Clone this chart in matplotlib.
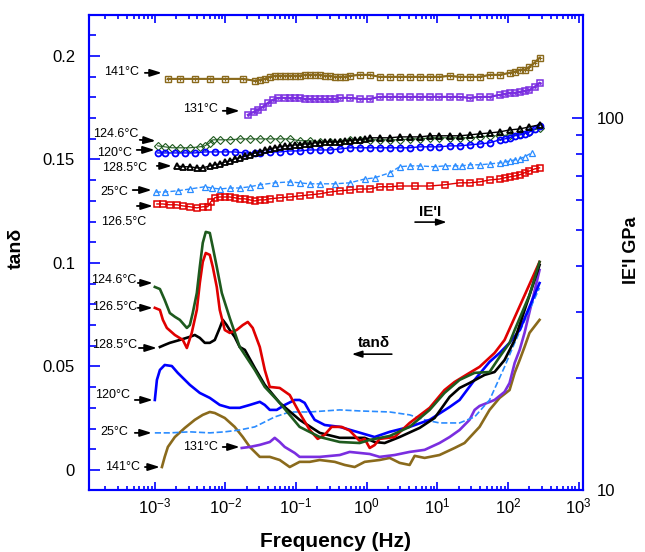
import matplotlib
matplotlib.use("Agg")
import matplotlib.pyplot as plt
from matplotlib.ticker import LogLocator, MultipleLocator, NullFormatter, FixedLocator
from matplotlib.transforms import offset_copy

plt.rcParams['font.family'] = ['Liberation Sans', 'DejaVu Sans']
plt.rcParams['mathtext.fontset'] = 'custom'
plt.rcParams['mathtext.rm'] = 'Liberation Sans'
plt.rcParams['mathtext.default'] = 'regular'

# ---- |E'| (GPa) vs frequency, right axis ----
f_e141 = [1.53e-3, 2.26e-3, 3.68e-3, 6.0e-3, 9.77e-3, 1.76e-2, 2.6e-2, 3.06e-2, 3.6e-2, 4.24e-2,
          4.98e-2, 5.86e-2, 6.9e-2, 8.12e-2, 9.55e-2, 0.112, 0.132, 0.156, 0.183, 0.216, 0.254,
          0.299, 0.352, 0.414, 0.487, 0.573, 0.794,
          1.10, 1.52, 2.11, 2.92, 4.04, 5.60, 7.76, 10.7, 14.9, 20.6, 28.5, 39.5, 54.7, 75.9,
          105, 124, 146, 171, 201, 237, 279]
e141 = [127.3, 127.3, 127.3, 127.3, 127.3, 127.3, 125.8, 126.5, 127.3, 128.9,
        129.7, 129.7, 129.7, 129.7, 129.7, 129.7, 130.5, 130.5, 130.5, 130.5, 129.7,
        129.7, 128.9, 128.9, 128.9, 129.7, 130.5,
        130.5, 128.9, 128.9, 128.9, 128.9, 128.9, 128.9, 128.9, 129.7, 128.9, 128.9, 128.9, 130.5, 130.5,
        132.1, 133.0, 134.6, 134.6, 137.1, 140.6, 145.0]

f_e131 = [2.07e-2, 2.51e-2, 2.86e-2, 3.37e-2, 3.97e-2, 4.67e-2, 5.49e-2, 6.9e-2, 8.12e-2, 9.55e-2,
          0.112, 0.132, 0.156, 0.183, 0.216, 0.254, 0.299, 0.352, 0.414, 0.573, 0.794, 1.10,
          1.52, 2.11, 2.92, 4.04, 5.60, 7.76,
          10.7, 14.9, 20.6, 28.5, 39.5, 54.7, 75.9, 89.2, 105, 124, 146, 171, 201, 237, 279]
e131 = [101.9, 103.8, 105.1, 107.1, 109.7, 111.8, 113.2, 113.2, 113.2, 113.2,
        113.2, 112.5, 112.5, 112.5, 112.5, 112.5, 112.5, 112.5, 113.2, 113.2, 112.5, 112.5,
        113.9, 113.9, 113.9, 113.9, 113.9, 113.9,
        113.9, 113.9, 113.9, 113.2, 113.9, 113.9, 115.3, 116.0, 116.8, 116.8, 117.5, 118.2, 118.9, 121.2, 124.2]

f_e1246 = [1.10e-3, 1.38e-3, 1.74e-3, 2.26e-3, 3.13e-3, 4.33e-3, 5.1e-3, 6.0e-3, 6.61e-3, 8.3e-3,
           1.15e-2, 1.59e-2, 2.21e-2, 3.06e-2, 4.24e-2, 5.86e-2, 8.12e-2, 0.112, 0.156, 0.216,
           0.299, 0.414, 0.573, 0.794, 1.10, 1.52, 2.11, 2.92, 4.04, 5.60, 7.76, 10.7, 14.9,
           20.6, 28.5, 39.5, 54.7, 75.9, 105, 146, 201, 279]
e1246 = [84.1, 83.6, 83.1, 83.1, 83.1, 83.6, 84.1, 85.7, 87.3, 87.3,
         87.3, 87.8, 87.8, 87.8, 87.8, 87.8, 87.8, 86.8, 86.8, 86.2,
         86.2, 86.2, 87.3, 87.3, 87.3, 87.3, 87.3, 87.3, 87.8, 87.8, 88.4, 88.4, 88.4,
         88.4, 88.4, 88.9, 89.5, 89.5, 90.0, 90.6, 91.7, 94.0]

f_e120 = [1.10e-3, 1.38e-3, 1.92e-3, 2.66e-3, 3.68e-3, 5.1e-3, 7.06e-3, 9.77e-3, 1.35e-2, 1.88e-2,
          2.6e-2, 3.06e-2, 4.24e-2, 5.86e-2, 8.12e-2, 0.112, 0.156, 0.216, 0.299, 0.414, 0.573,
          0.794, 1.10, 1.52, 2.11, 2.92, 4.04, 5.60, 7.76, 10.7, 14.9, 20.6, 28.5, 39.5, 54.7,
          75.9, 89.2, 105, 124, 146, 171, 201, 237, 279]
e120 = [80.5, 80.5, 80.5, 80.5, 80.5, 81.0, 81.0, 81.0, 81.0, 80.5,
        80.5, 80.5, 81.0, 81.0, 81.5, 81.5, 82.0, 82.0, 82.0, 82.5, 83.1,
        83.1, 83.1, 83.1, 83.1, 83.1, 83.1, 83.6, 83.6, 83.6, 84.1, 84.1, 84.6, 85.1, 85.7,
        87.3, 87.8, 88.4, 89.5, 90.0, 90.6, 91.7, 93.4, 95.2]

f_e1285 = [2.05e-3, 2.49e-3, 3.13e-3, 3.93e-3, 4.77e-3, 6.0e-3, 7.06e-3, 8.3e-3, 9.77e-3, 1.15e-2,
           1.35e-2, 1.59e-2, 1.88e-2, 2.21e-2, 2.6e-2, 3.06e-2, 3.6e-2, 4.24e-2, 4.98e-2, 5.86e-2,
           6.9e-2, 8.12e-2, 9.55e-2, 0.112, 0.132, 0.156, 0.183, 0.216, 0.254, 0.299, 0.352,
           0.414, 0.487, 0.573, 0.674, 0.794, 0.934, 1.10, 1.52, 2.11, 2.92,
           4.04, 5.60, 7.76, 10.7, 14.9, 20.6, 28.5, 39.5, 54.7, 75.9, 105, 146, 201, 279]
e1285 = [74.3, 73.9, 73.9, 73.4, 73.4, 74.3, 74.8, 75.2, 76.1, 76.6,
         77.6, 78.1, 79.0, 79.5, 80.5, 81.0, 82.0, 82.5, 83.1, 83.6,
         84.1, 84.1, 84.6, 84.6, 85.1, 85.1, 85.7, 85.7, 86.2, 86.2, 86.2,
         86.2, 86.8, 86.8, 87.3, 87.3, 87.8, 88.4, 88.4, 88.4, 88.9,
         88.9, 88.9, 89.5, 89.5, 89.5, 89.5, 90.0, 90.6, 91.1, 91.7, 92.8, 93.4, 94.6, 95.8]

f_e25 = [1.03e-3, 1.38e-3, 2.11e-3, 3.13e-3, 5.1e-3, 6.40e-3, 8.3e-3, 1.15e-2, 1.59e-2, 2.21e-2,
         3.06e-2, 4.98e-2, 8.12e-2, 0.112, 0.156, 0.216, 0.352, 0.573, 0.934, 1.29, 2.11,
         2.92, 4.04, 5.60, 9.13, 12.6, 17.5, 22.0, 28.5, 39.5, 54.7, 75.9, 89.2, 105, 124,
         146, 171, 215]
e25 = [63.2, 63.2, 63.7, 64.4, 65.3, 64.8, 64.4, 64.8, 64.8, 65.3,
       66.1, 66.9, 67.3, 66.9, 66.5, 66.5, 66.5, 66.9, 68.5, 69.0, 71.2,
       73.9, 74.3, 74.3, 73.9, 74.3, 74.3, 74.3, 74.8, 74.8, 75.2, 75.7, 76.1, 76.6, 77.1,
       77.6, 78.6, 80.5]

f_e1265 = [1.07e-3, 1.30e-3, 1.63e-3, 2.05e-3, 2.49e-3, 3.13e-3, 3.93e-3, 4.77e-3, 5.62e-3, 6.20e-3,
           7.06e-3, 8.3e-3, 9.77e-3, 1.15e-2, 1.35e-2, 1.59e-2, 1.88e-2, 2.21e-2, 2.6e-2, 3.06e-2,
           3.6e-2, 4.24e-2, 5.86e-2, 8.12e-2,
           0.112, 0.156, 0.216, 0.299, 0.414, 0.573, 0.794, 1.10, 1.52, 2.11, 2.92, 4.76, 7.76,
           12.6, 20.6, 28.5, 39.5, 54.7, 75.9, 89.2, 105, 124, 146, 171, 201, 237, 279]
e1265 = [58.7, 58.7, 58.4, 58.4, 58.0, 57.7, 57.3, 57.7, 57.7, 59.5,
         61.0, 61.3, 61.3, 61.3, 61.0, 60.6, 60.6, 60.2, 59.8, 60.2,
         60.2, 60.6, 61.0, 61.3,
         61.7, 62.1, 62.5, 63.2, 63.7, 64.0, 64.4, 64.4, 65.3, 65.3, 65.6, 65.6, 65.6,
         66.1, 66.9, 66.9, 67.3, 68.1, 68.5, 69.0, 69.4, 69.8, 70.3, 71.2, 72.0, 72.9, 73.4]

# ---- tan(delta) vs frequency, left axis ----
f_t1246 = [1.0e-3, 1.18e-3, 1.38e-3, 1.63e-3, 1.92e-3, 2.26e-3, 2.84e-3, 3.13e-3, 3.44e-3, 3.93e-3,
           4.33e-3, 4.77e-3, 5.26e-3, 6.0e-3, 6.61e-3, 7.53e-3, 8.87e-3, 1.15e-2, 1.59e-2, 2.6e-2,
           3.6e-2, 5.86e-2, 0.112, 0.216, 0.414, 0.794, 1.10, 2.11, 4.04, 7.76, 12.6, 20.6,
           33.6, 54.7, 75.9, 105, 124, 201, 279]
t1246 = [0.0884, 0.0874, 0.0821, 0.0758, 0.0740, 0.0725, 0.0686, 0.0700, 0.0758, 0.0855,
         0.0981, 0.1097, 0.1150, 0.1145, 0.1077, 0.0981, 0.0855, 0.0734, 0.0594, 0.0483,
         0.0401, 0.0324, 0.0208, 0.0159, 0.0135, 0.0130, 0.0145, 0.0164, 0.0208, 0.0290, 0.0372, 0.0435,
         0.0469, 0.0473, 0.0546, 0.0614, 0.0676, 0.0845, 0.1005]

f_t1265 = [1.0e-3, 1.18e-3, 1.30e-3, 1.48e-3, 1.92e-3, 2.49e-3, 2.84e-3, 3.33e-3, 3.93e-3, 4.33e-3,
           4.77e-3, 5.26e-3, 6.0e-3, 6.61e-3, 7.53e-3, 8.3e-3, 9.77e-3, 1.15e-2, 1.44e-2, 1.76e-2,
           2.07e-2, 2.43e-2, 3.06e-2, 3.6e-2, 4.24e-2, 5.86e-2, 8.12e-2, 0.112, 0.156, 0.202,
           0.254, 0.318, 0.441, 0.573, 0.794, 0.934, 1.10, 1.29, 1.52, 2.48, 4.04, 7.76, 12.6,
           17.5, 28.5, 39.5, 64.4, 89.2, 279]
t1265 = [0.0783, 0.0773, 0.0725, 0.0686, 0.0652, 0.0628, 0.0589, 0.0662, 0.0773, 0.0903,
         0.1005, 0.1048, 0.1039, 0.0981, 0.0884, 0.0773, 0.0676, 0.0662, 0.0676, 0.0700,
         0.0715, 0.0686, 0.0594, 0.0483, 0.0401, 0.0396, 0.0362, 0.0275, 0.0193, 0.0150,
         0.0170, 0.0208, 0.0208, 0.0190, 0.0140, 0.0150, 0.0106, 0.0120, 0.0150, 0.0159, 0.0227, 0.0300, 0.0386,
         0.0425, 0.0469, 0.0498, 0.0565, 0.0628, 0.1005]

f_t1285 = [1.18e-3, 1.38e-3, 1.63e-3, 2.26e-3, 3.13e-3, 3.68e-3, 4.33e-3, 5.1e-3, 6.0e-3, 7.06e-3,
           8.3e-3, 9.16e-3, 1.04e-2, 1.15e-2, 1.35e-2, 1.59e-2, 1.88e-2, 2.6e-2, 3.6e-2, 5.86e-2,
           0.112, 0.216, 0.414, 0.934, 1.29, 1.79, 2.92, 5.60, 9.13, 14.9, 20.6, 28.5, 46.5,
           64.4, 89.2, 124, 279]
t1285 = [0.0594, 0.0604, 0.0614, 0.0628, 0.0643, 0.0652, 0.0638, 0.0614, 0.0614, 0.0628,
         0.0686, 0.0725, 0.0700, 0.0676, 0.0643, 0.0594, 0.0580, 0.0493, 0.0411, 0.0324,
         0.0242, 0.0179, 0.0155, 0.0155, 0.0135, 0.0130, 0.0159, 0.0203, 0.0251, 0.0353, 0.0396, 0.0420, 0.0459,
         0.0473, 0.0531, 0.0628, 0.0990]

f_t120 = [1.0e-3, 1.07e-3, 1.18e-3, 1.38e-3, 1.74e-3, 2.11e-3, 2.66e-3, 3.13e-3, 4.33e-3, 6.0e-3,
          8.3e-3, 1.15e-2, 1.59e-2, 2.21e-2, 3.06e-2, 3.6e-2, 4.24e-2, 5.32e-2, 6.9e-2, 9.55e-2,
          0.112, 0.132, 0.156, 0.183, 0.254, 0.414, 0.794, 1.29, 2.11, 4.04, 7.76, 14.9, 20.6,
          33.6, 54.7, 75.9, 105, 146, 279]
t120 = [0.0338, 0.0435, 0.0483, 0.0507, 0.0502, 0.0469, 0.0435, 0.0411, 0.0372, 0.0348,
        0.0314, 0.0300, 0.0300, 0.0314, 0.0329, 0.0314, 0.0290, 0.0290, 0.0314, 0.0338,
        0.0338, 0.0324, 0.0280, 0.0242, 0.0217, 0.0208, 0.0180, 0.0159, 0.0184, 0.0208, 0.0242, 0.0304, 0.0338,
        0.0435, 0.0522, 0.0565, 0.0614, 0.0676, 0.0903]

f_t25 = [1.0e-3, 1.63e-3, 3.13e-3, 6.0e-3, 9.77e-3, 1.59e-2, 2.6e-2, 3.6e-2, 4.98e-2, 8.12e-2,
         0.156, 0.414, 0.794, 2.11, 4.04, 6.59, 10.7, 20.6, 33.6, 54.7, 89.2, 124, 279]
t25 = [0.0179, 0.0179, 0.0184, 0.0179, 0.0184, 0.0193, 0.0208, 0.0232, 0.0256, 0.0280,
       0.0280, 0.0290, 0.0285, 0.0280, 0.0266, 0.0242, 0.0227, 0.0227, 0.0256, 0.0338, 0.0498, 0.0614, 0.0880]

f_t131 = [1.70e-2, 2.21e-2, 3.06e-2, 4.24e-2, 4.98e-2, 5.86e-2, 6.9e-2, 9.55e-2, 0.112, 0.216,
          0.414, 0.573, 0.794, 1.10, 1.52, 2.48, 4.04, 6.59, 10.7, 14.9, 20.6, 28.5, 33.6,
          39.5, 64.4, 89.2, 105, 124, 146, 171, 279]
t131 = [0.0106, 0.0111, 0.0121, 0.0135, 0.0155, 0.0135, 0.0111, 0.0082, 0.0063, 0.0063,
        0.0072, 0.0087, 0.0082, 0.0077, 0.0063, 0.0072, 0.0087, 0.0097, 0.0130, 0.0159, 0.0193, 0.0242, 0.0290,
        0.0309, 0.0338, 0.0377, 0.0420, 0.0517, 0.0580, 0.0662, 0.0966]

f_t141 = [1.26e-3, 1.38e-3, 1.53e-3, 1.92e-3, 2.66e-3, 3.68e-3, 4.77e-3, 6.0e-3, 7.06e-3, 9.77e-3,
          1.35e-2, 1.76e-2, 2.21e-2, 3.06e-2, 4.24e-2, 5.86e-2, 8.12e-2, 0.112, 0.156, 0.216,
          0.352, 0.487, 0.674, 0.934, 1.52, 2.11, 2.92, 4.04, 4.76, 6.59, 10.7, 17.5, 24.2,
          39.5, 54.7, 75.9, 105, 124, 146, 171, 201, 279]
t141 = [0.0014, 0.0063, 0.0111, 0.0159, 0.0203, 0.0242, 0.0266, 0.0280, 0.0275, 0.0251,
        0.0208, 0.0159, 0.0111, 0.0063, 0.0063, 0.0048, 0.0014, 0.0039, 0.0039, 0.0048,
        0.0039, 0.0024, 0.0014, 0.0039, 0.0048, 0.0058, 0.0034, 0.0024, 0.0068, 0.0058, 0.0072, 0.0106, 0.0130,
        0.0208, 0.0290, 0.0348, 0.0386, 0.0469, 0.0531, 0.0594, 0.0662, 0.0725]

freq_ticks = [1e-3, 1e-2, 1e-1, 1e0, 1e1, 1e2, 1e3]
freq_labels = ['$10^{-3}$', '$10^{-2}$', '$10^{-1}$', '$10^{0}$', '$10^{1}$', '$10^{2}$', '$10^{3}$']
tan_ticks = [0, 0.05, 0.1, 0.15, 0.2]
tan_labels = ['0', '0.05', '0.1', '0.15', '0.2']

c141 = '#8a6a1c'
c131 = '#7a2ee0'
c1246 = '#1e5a1e'
c120 = '#0000ff'
c1285 = '#000000'
c25 = '#2a8cff'
c1265 = '#e00000'

fig = plt.figure(figsize=(6.45, 5.52), dpi=100)
ax = fig.add_axes([89 / 645, 1 - 490 / 552, 494 / 645, 475 / 552])
ax2 = ax.twinx()

ax.set_xscale('log')
ax.set_xlim(1.17e-4, 1.15e3)
ax.set_ylim(-0.0097, 0.2198)
ax2.set_yscale('log')
ax2.set_ylim(10, 189)

# modulus curves
ms = 4.3
ax2.plot(f_e141, e141, '-', color=c141, lw=1, marker='s', ms=ms, mfc='none', mew=1)
ax2.plot(f_e141, e141, 'none', color=c141, marker='+', ms=ms - 1, mew=0.8)
ax2.plot(f_e131, e131, '-', color=c131, lw=1, marker='s', ms=ms, mfc='none', mew=1.1)
ax2.plot(f_e131, e131, 'none', color=c131, marker='.', ms=2)
ax2.plot(f_e1246, e1246, '-', color=c1246, lw=0.8, marker='D', ms=3.6, mfc='none', mew=0.8)
ax2.plot(f_e120, e120, '-', color=c120, lw=1, marker='o', ms=ms, mfc='none', mew=1.3)
ax2.plot(f_e1285, e1285, '-', color=c1285, lw=1, marker='^', ms=ms, mfc='none', mew=1.3)
ax2.plot(f_e25, e25, '--', color=c25, lw=1, marker='^', ms=ms, mfc='none', mew=0.9)
ax2.plot(f_e1265, e1265, '-', color=c1265, lw=1, marker='s', ms=ms, mfc='none', mew=1.1)

# loss tangent curves
lw = 1.9
ax.plot(f_t141, t141, color=c141, lw=lw)
ax.plot(f_t131, t131, color=c131, lw=lw)
ax.plot(f_t25, t25, '--', color=c25, lw=1.2)
ax.plot(f_t120, t120, color=c120, lw=lw)
ax.plot(f_t1285, t1285, color=c1285, lw=lw)
ax.plot(f_t1265, t1265, color=c1265, lw=lw)
ax.plot(f_t1246, t1246, color=c1246, lw=lw)


def tag(axis, f0, v0, text, txt, tail, head):
    tr = axis.transData
    axis.text(f0, v0, text, transform=offset_copy(tr, fig=fig, x=txt[0], y=txt[1], units='dots'),
              ha='right', va='center', fontsize=9)
    axis.annotate('', xy=(f0, v0), xycoords=offset_copy(tr, fig=fig, x=head[0], y=head[1], units='dots'),
                  xytext=(f0, v0), textcoords=offset_copy(tr, fig=fig, x=tail[0], y=tail[1], units='dots'),
                  arrowprops=dict(arrowstyle='-|>,head_length=0.7,head_width=0.22', color='k',
                                  lw=1.3, shrinkA=0, shrinkB=0, mutation_scale=10))


tag(ax2, f_e141[0], e141[0], '141°C', (-29, 7), (-23, 6), (-6, 6))
tag(ax2, f_e131[0], e131[0], '131°C', (-30, 6), (-25, 4), (-8, 4))
tag(ax2, f_e1246[0], e1246[0], '124.6°C', (-19, 12), (-18, 6), (-2, 5))
tag(ax2, f_e120[0], e120[0], '120°C', (-26, 0), (-21, 3), (-3, 3))
tag(ax2, f_e1285[0], e1285[0], '128.5°C', (-30, -2), (-20, 0), (-5, 0))
tag(ax2, f_e25[0], e25[0], '25°C', (-28, 0), (-23, 2), (-4, 2))
tag(ax2, f_e1265[0], e1265[0], '126.5°C', (-11, -18), (-20, -2), (-4, -2))

tag(ax, f_t1246[0], t1246[0], '124.6°C', (-18, 7), (-17, 4), (-2, 4))
tag(ax, f_t1265[0], t1265[0], '126.5°C', (-18, 1), (-17, 0), (-2, 0))
tag(ax, f_t1285[0], t1285[0], '128.5°C', (-23, 2), (-21, -1), (-3, -1))
tag(ax, f_t120[0], t120[0], '120°C', (-25, 5), (-20, 0), (-2, 0))
tag(ax, f_t25[0], t25[0], '25°C', (-27, 1), (-20, 0), (-3, 0))
tag(ax, f_t131[0], t131[0], '131°C', (-24, 1), (-19, 1), (-2, 1))
tag(ax, f_t141[0], t141[0], '141°C', (-22, 0), (-17, 0), (-2, 0))

# axis pointers
ax.text(0.690, 0.585, "IE'I", transform=ax.transAxes, ha='center', va='center',
        fontsize=11, fontweight='bold')
ax.annotate('', xy=(0.724, 0.564), xycoords='axes fraction', xytext=(0.660, 0.564),
            textcoords='axes fraction',
            arrowprops=dict(arrowstyle='-|>,head_length=0.6,head_width=0.2', color='k', lw=1.2,
                            shrinkA=0, shrinkB=0, mutation_scale=10))
ax.text(0.577, 0.309, 'tanδ', transform=ax.transAxes, ha='center', va='center',
        fontsize=11, fontweight='bold')
ax.annotate('', xy=(0.532, 0.286), xycoords='axes fraction', xytext=(0.613, 0.286),
            textcoords='axes fraction',
            arrowprops=dict(arrowstyle='-|>,head_length=0.6,head_width=0.2', color='k', lw=1.2,
                            shrinkA=0, shrinkB=0, mutation_scale=10))

# ticks
ax.set_yticks(tan_ticks)
ax.set_yticklabels(tan_labels)
ax.yaxis.set_minor_locator(MultipleLocator(0.01))
ax.set_xticks(freq_ticks)
ax.set_xticklabels(freq_labels)
ax.xaxis.set_minor_locator(LogLocator(base=10, subs=range(2, 10), numticks=20))
ax.xaxis.set_minor_formatter(NullFormatter())
ax.set_xlim(1.17e-4, 1.15e3)

ax2.yaxis.set_major_locator(FixedLocator([10, 100]))
ax2.set_yticklabels(['10', '100'])
ax2.yaxis.set_minor_locator(LogLocator(base=10, subs=range(2, 10), numticks=20))
ax2.yaxis.set_minor_formatter(NullFormatter())

blue = '#0000ff'
ax.tick_params(axis='x', which='both', direction='in', top=True, bottom=True, color=blue, width=1.2,
               labelsize=12, pad=5)
ax.tick_params(axis='x', which='major', length=6)
ax.tick_params(axis='x', which='minor', length=3)
ax.tick_params(axis='y', which='both', direction='in', left=True, right=False, color=blue, width=1.2,
               labelsize=12, pad=10)
ax.tick_params(axis='y', which='major', length=8)
ax.tick_params(axis='y', which='minor', length=5)
ax2.tick_params(axis='y', which='both', direction='in', right=True, left=False, color=blue, width=1.2,
                labelsize=12, pad=10)
ax2.tick_params(axis='y', which='major', length=8)
ax2.tick_params(axis='y', which='minor', length=5)
for a in (ax, ax2):
    for s in a.spines.values():
        s.set_color(blue)
        s.set_linewidth(1.5)

ax.set_xlabel('Frequency (Hz)', fontsize=15, fontweight='bold', labelpad=11)
fig.text(16 / 645, 1 - 248 / 552, 'tanδ', rotation=90, ha='center', va='center',
         fontsize=14, fontweight='bold')
fig.text(631 / 645, 1 - 250 / 552, "IE'I GPa", rotation=90, ha='center', va='center',
         fontsize=13, fontweight='bold')

fig.savefig('out.png', dpi=100)
